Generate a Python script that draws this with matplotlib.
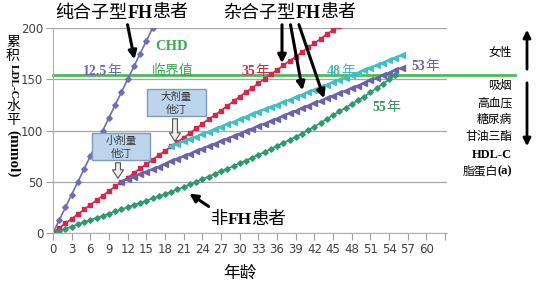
import numpy as np
import matplotlib
matplotlib.use('Agg')
import matplotlib.pyplot as plt
from matplotlib.patches import Rectangle

plt.rcParams['font.family'] = ['Noto Sans CJK SC', 'DejaVu Sans']

# cumulative LDL-C by age (one value per year)
homo_fh = [0, 12.5, 25, 37.5, 50, 62.5, 75, 87.5, 100, 112.5, 125, 137.5, 150,
           162.5, 175, 187.5, 200]
hetero_fh = [0, 5, 9.5, 14, 18.5, 23, 27.5, 32, 36.5, 41, 45.5, 50, 54, 58.5, 63,
             67, 71.5, 76, 80, 84.5, 89, 93, 97.5, 102, 106.5, 111, 115, 119.5,
             124, 128.5, 133, 137.5, 141.5, 146, 150.5, 155, 159, 163.5, 168, 172,
             176.5, 181, 185, 189.5, 194, 198, 202]
low_dose_start = 11
low_dose = [50.0, 52.5, 55.0, 57.4, 59.9, 62.4, 64.8, 67.3, 69.8, 72.2, 74.7, 77.2,
            79.6, 82.1, 84.6, 87.1, 89.5, 92.0, 94.5, 96.9, 99.4, 101.9, 104.3,
            106.8, 109.3, 111.7, 114.2, 116.7, 119.2, 121.6, 124.1, 126.6, 129.0,
            131.5, 134.0, 136.4, 138.9, 141.4, 143.8, 146.3, 148.8, 151.3, 153.7,
            156.2, 158.7, 161.1]
high_dose_start = 19
high_dose = [84.5, 86.9, 89.3, 91.7, 94.1, 96.5, 98.9, 101.3, 103.7, 106.1, 108.5,
             110.9, 113.3, 115.7, 118.1, 120.5, 122.9, 125.3, 127.7, 130.1, 132.5,
             134.9, 137.3, 139.7, 142.1, 144.5, 146.9, 149.3, 151.7, 154.1, 156.5,
             158.9, 161.3, 163.7, 166.1, 168.5, 170.9, 173.3]
non_fh = [0, 2.1, 4.2, 6.3, 8.4, 10.5, 12.6, 14.7, 16.8, 18.9, 21.0, 23.1, 25.2,
          27.3, 29.4, 31.5, 33.7, 35.8, 38.0, 40.2, 42.5, 44.9, 47.4, 49.9, 52.4,
          55.0, 57.6, 60.2, 62.8, 65.4, 68.0, 70.7, 73.5, 76.3, 79.1, 82.0, 84.9,
          87.9, 90.9, 93.9, 97.0, 100.4, 103.9, 107.5, 111.2, 115.0, 118.6, 122.2,
          125.8, 129.4, 133.0, 137.2, 141.4, 145.6, 149.8, 154.0]
chd_level = 154

x_ticks = list(range(0, 64, 3))
x_tick_labels = [str(v) for v in range(0, 61, 3)] + ['']
y_ticks = [0, 50, 100, 150, 200]

risk_up = ['女性']
risk_down = ['吸烟', '高血压', '糖尿病', '甘油三酯', 'HDL-C', '脂蛋白(a)']

W, H = 537, 284
fig = plt.figure(figsize=(W / 100, H / 100), dpi=100)
ax = fig.add_axes([53 / W, 1 - 233 / H, 394 / W, 205 / H])

ax.axhline(chd_level, xmin=0, xmax=1.173, color='#4fb85a', lw=2, clip_on=False, zorder=1.5)

ax.plot(np.arange(len(homo_fh)), homo_fh, color='#6f6db3', marker='D', ms=2.8, lw=1.2)
ax.plot(np.arange(len(hetero_fh)), hetero_fh, color='#d6264c', marker='s', ms=3.2, lw=1.2)
ax.plot(np.arange(len(high_dose)) + high_dose_start, high_dose, color='#42bfc6',
        marker='<', ms=3.8, lw=1.2)
ax.plot(np.arange(len(low_dose)) + low_dose_start, low_dose, color='#6b63aa',
        marker='<', ms=3.8, lw=1.2)
ax.plot(np.arange(len(non_fh)), non_fh, color='#2c9a6c', marker='D', ms=2.8, lw=1.2)

ax.set_xlim(0, 63.3)
ax.set_ylim(0, 200)
ax.set_xticks(x_ticks)
ax.set_xticklabels(x_tick_labels, family='DejaVu Sans')
ax.set_yticks(y_ticks)
ax.set_yticklabels([str(v) for v in y_ticks], family='DejaVu Sans')
ax.tick_params(direction='out', length=5, color='#a0a0a0', labelsize=8.5,
               labelcolor='#404040', pad=2)
ax.yaxis.grid(True, color='#a6a6a6', lw=0.9)
ax.set_axisbelow(True)
for s in ['top', 'right']:
    ax.spines[s].set_visible(False)
for s in ['left', 'bottom']:
    ax.spines[s].set_color('#b0b0b0')


def cjk(size, **k):
    return dict(fontsize=size, family=['Noto Sans CJK SC', 'DejaVu Sans'], **k)


def serif(size, **k):
    return dict(fontsize=size, family=['Liberation Serif', 'Noto Sans CJK SC'],
                fontweight='bold', **k)


def put(x, y, parts, ha='center'):
    r = fig.canvas.get_renderer()
    items = []
    for s, kw in parts:
        t = fig.text(0, 0, s, va='baseline', ha='left', **kw)
        items.append((t, t.get_window_extent(r).width, kw['fontsize']))
    total = sum(w for _, w, _ in items)
    size = max(f for _, _, f in items) * 100 / 72
    base = y + 0.36 * size
    x0 = {'center': x - total / 2, 'right': x - total, 'left': x}[ha]
    for t, w, _ in items:
        t.set_position((x0 / W, 1 - base / H))
        x0 += w


def arrow(tail, head, **kw):
    props = dict(arrowstyle='-|>', lw=2.2, color='black', mutation_scale=12)
    props.update(kw)
    ax.annotate('', xy=(head[0], H - head[1]), xytext=(tail[0], H - tail[1]),
                xycoords='figure pixels', textcoords='figure pixels',
                arrowprops=props, annotation_clip=False)


# titles
put(122, 11, [('纯合子型', cjk(13)), ('FH', serif(13)), ('患者', cjk(13))])
put(290, 11, [('杂合子型', cjk(13)), ('FH', serif(13)), ('患者', cjk(13))])
put(248, 218, [('非', cjk(12.5)), ('FH', serif(12.5)), ('患者', cjk(12.5))])

arrow((127, 22), (135, 62))
arrow((282, 22), (282, 66))
arrow((290, 22), (303, 93))
arrow((298, 22), (325, 101))
arrow((211, 208), (187, 192))

# annotations on the chart
put(172, 45, [('CHD', serif(10.5, color='#3aaa50'))])
put(173, 70, [('临界值', cjk(10, color='#3aaa50'))])
put(102, 70, [('12.5', serif(10, color='#6a6ab0')), ('年', cjk(10, color='#6a6ab0'))])
put(255, 70, [('35', serif(10, color='#d42a4a')), ('年', cjk(10, color='#d42a4a'))])
put(341, 70, [('48', serif(10, color='#40b8c0')), ('年', cjk(10, color='#40b8c0'))])
put(425, 65, [('53', serif(10, color='#6860a8')), ('年', cjk(10, color='#6860a8'))])
put(386, 106, [('55', serif(10, color='#3a9060')), ('年', cjk(10, color='#3a9060'))])

# statin boxes
for (x1, y1, x2, y2), lines, tip in [((147, 89, 206, 116), ['大剂量', '他汀'], (175, 144)),
                                     ((92, 133, 150, 160), ['小剂量', '他汀'], (118, 181))]:
    fig.add_artist(Rectangle((x1 / W, 1 - y2 / H), (x2 - x1) / W, (y2 - y1) / H,
                             transform=fig.transFigure, fc='#bcd5ec', ec='#7f9bbb', lw=1))
    cx = (x1 + x2) / 2
    put(cx, y1 + 7, [(lines[0], cjk(7.5, color='#333333'))])
    put(cx, y1 + 20, [(lines[1], cjk(7.5, color='#333333'))])
    arrow((tip[0], y2), tip, arrowstyle='simple,head_length=0.6,head_width=0.8,tail_width=0.35',
          fc='#eeeeee', ec='#555555', lw=0.8, mutation_scale=10)

# y label in vertical layout
put(13, 41, [('累', cjk(10))])
put(13, 55, [('积', cjk(10))])
fig.text(13 / W, 1 - 81 / H, 'LDL-C', rotation=-90, ha='center', va='center',
         **serif(8))
put(13, 105, [('水', cjk(10))])
put(13, 119, [('平', cjk(10))])
fig.text(13 / W, 1 - 154 / H, '(mmol)', rotation=-90, ha='center', va='center',
         **serif(11))

put(240, 272, [('年龄', cjk(12))])

# risk factors on the right
put(512, 52, [(risk_up[0], cjk(8.5))], ha='right')
rows = [85, 102, 119, 136, 153, 170]
for label, yy in zip(risk_down, rows):
    if label == 'HDL-C':
        put(512, yy, [(label, serif(9))], ha='right')
    elif label.endswith('(a)'):
        put(512, yy, [(label[:-3], cjk(8.5)), ('(a)', serif(9))], ha='right')
    else:
        put(512, yy, [(label, cjk(8.5))], ha='right')
arrow((527, 72), (527, 27), lw=2, mutation_scale=11)
arrow((527, 80), (527, 149), lw=2, mutation_scale=11)

fig.savefig('out.png', dpi=100)
